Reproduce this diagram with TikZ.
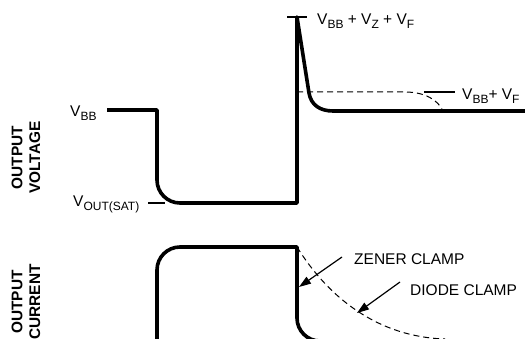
\documentclass[tikz,border=0pt]{standalone}
\usepackage{fontspec}
\setmainfont{Liberation Sans}
\usetikzlibrary{arrows.meta}
\newcommand\sbx[1]{\raisebox{-4pt}{\fontsize{12}{12}\selectfont #1}}
\begin{document}
\begin{tikzpicture}[x=1pt,y=-1pt,
  wave/.style={line width=3.6pt, line join=round},
  tick/.style={line width=1.3pt},
  dashcurve/.style={line width=1pt, dash pattern=on 6pt off 4pt},
  lbl/.style={inner sep=0pt, anchor=base west, font=\fontsize{15.5}{17}\selectfont},
  axislbl/.style={inner sep=0pt, rotate=90, align=center, font=\fontsize{15.4}{17.7}\selectfont\bfseries},
  pointer/.style={line width=1.2pt, -{Triangle[length=12pt,width=8pt]}}]
\useasboundingbox (0,0) rectangle (525,339);
\clip (0,0) rectangle (525,339);
% axis labels
\node[axislbl] (ov) at (26,157.5) {OUTPUT\\VOLTAGE};
\node[axislbl] (oc) at (26,302) {OUTPUT\\CURRENT};
% voltage waveform
\draw[wave] (107,110) -- (157,110) -- (157,180)
  .. controls (157,192.7) and (167.3,203) .. (180,203) -- (297,203) -- (297,17)
  -- (309,93) .. controls (311,105) and (320,111) .. (333,111) -- (530,111);
% diode clamp level (voltage)
\draw[dashcurve] (297,92) -- (405,92) .. controls (425,92) and (438,100) .. (443,111);
% ticks
\draw[tick] (287,17) -- (307,17);
\draw[tick] (424,92) -- (455,92);
\draw[tick] (148,203) -- (165,203);
% voltage labels
\node[lbl] (vbb) at (70,117) {V\sbx{BB}};
\node[lbl] (vsat) at (73,207) {V\sbx{OUT(SAT)}};
\node[lbl] (vpk) at (317,25) {V\sbx{BB} + V\sbx{Z} + V\sbx{F}};
\node[lbl] (vf) at (462,100) {V\sbx{BB}+ V\sbx{F}};
% current waveform
\draw[wave] (157,345) -- (157,270)
  .. controls (157,257.3) and (167.3,247) .. (180,247) -- (297,247) -- (297,318)
  .. controls (297,330.7) and (307.3,341) .. (320,341);
\draw[dashcurve] (297,247) .. controls (330,300) and (380,337) .. (445,339);
% clamp labels and pointers
\node[lbl] (zl) at (354,265) {ZENER CLAMP};
\node[lbl] (dl) at (410,295) {DIODE CLAMP};
\coordinate (ztail) at (342,257);
\coordinate (ztip) at (299,287);
\coordinate (dtail) at (400,282);
\coordinate (dtip) at (357,313);
\draw[pointer] (ztail) -- (ztip);
\draw[pointer] (dtail) -- (dtip);
\end{tikzpicture}
\end{document}
